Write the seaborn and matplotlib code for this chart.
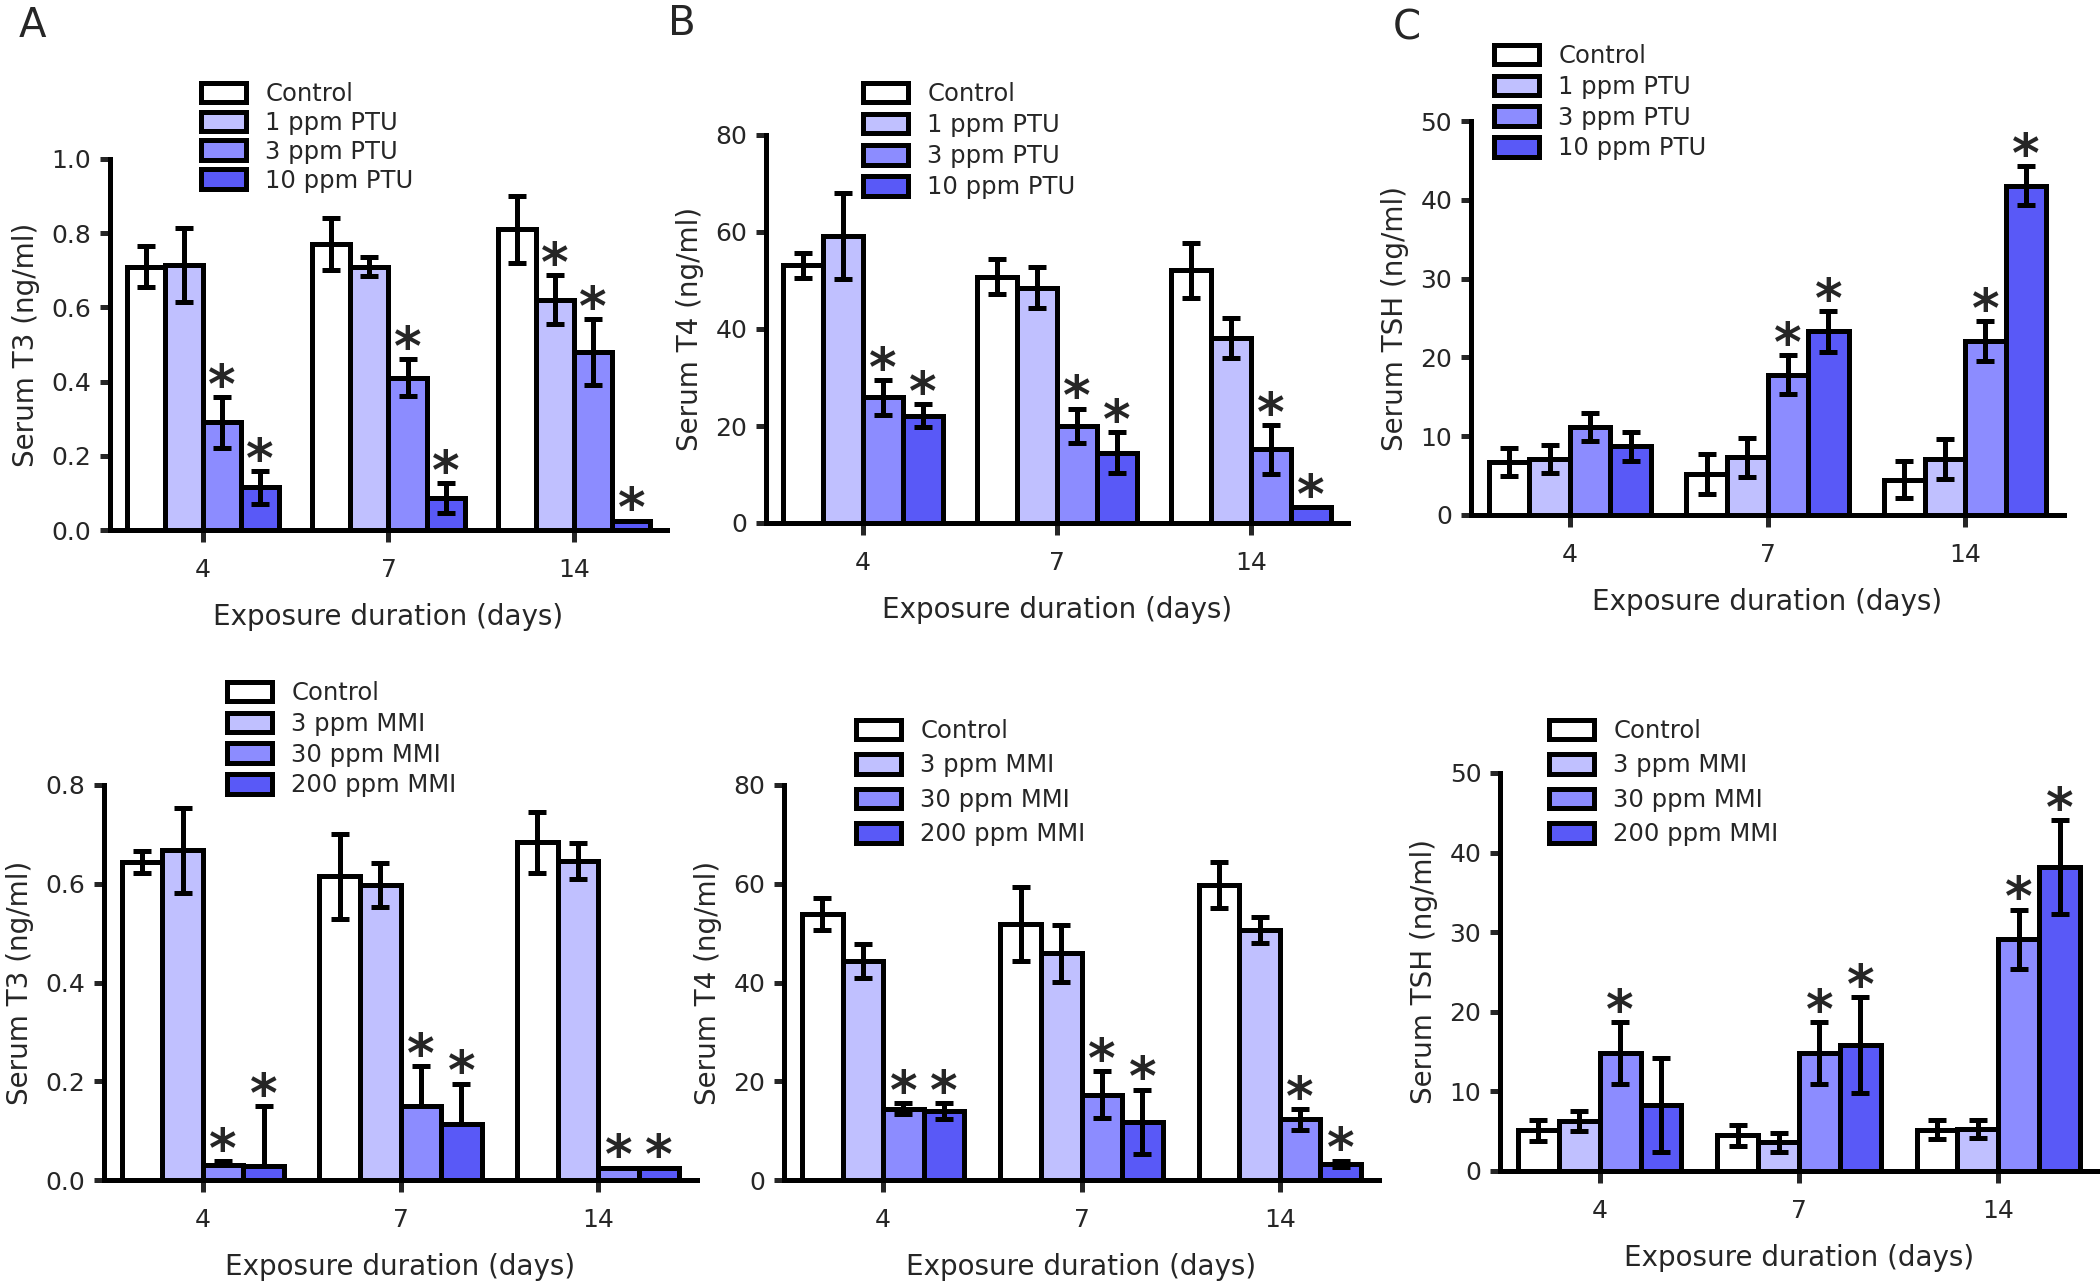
import numpy as np
import pandas as pd
import matplotlib
matplotlib.use("Agg")
import matplotlib.pyplot as plt
import seaborn as sns

days = ["4", "7", "14"]
ptu_groups = ["Control", "1 ppm PTU", "3 ppm PTU", "10 ppm PTU"]
mmi_groups = ["Control", "3 ppm MMI", "30 ppm MMI", "200 ppm MMI"]
colors = ["#FFFFFF", "#C0C0FF", "#8C8CFF", "#5959F7"]

# rows = groups, columns = days 4, 7, 14
t3_ptu = [[0.71, 0.77, 0.81], [0.715, 0.71, 0.62], [0.29, 0.41, 0.48], [0.115, 0.086, 0.025]]
t3_ptu_err = [[0.056, 0.07, 0.09], [0.10, 0.026, 0.066], [0.068, 0.05, 0.089], [0.044, 0.04, 0.0]]
t3_ptu_star = [[0, 0, 0], [0, 0, 1], [1, 1, 1], [1, 1, 1]]

t4_ptu = [[53.1, 50.8, 52.1], [59.2, 48.5, 38.2], [25.9, 20.0, 15.2], [22.1, 14.5, 3.2]]
t4_ptu_err = [[2.6, 3.6, 5.7], [8.9, 4.2, 4.1], [3.6, 3.6, 5.0], [2.4, 4.2, 0.0]]
t4_ptu_star = [[0, 0, 0], [0, 0, 0], [1, 1, 1], [1, 1, 1]]

tsh_ptu = [[6.7, 5.2, 4.5], [7.1, 7.3, 7.1], [11.2, 17.8, 22.1], [8.7, 23.3, 41.8]]
tsh_ptu_err = [[1.8, 2.5, 2.4], [1.8, 2.5, 2.5], [1.8, 2.5, 2.5], [1.8, 2.6, 2.5]]
tsh_ptu_star = [[0, 0, 0], [0, 0, 0], [0, 1, 1], [0, 1, 1]]

t3_mmi = [[0.644, 0.615, 0.684], [0.668, 0.598, 0.646], [0.030, 0.150, 0.025], [0.029, 0.113, 0.025]]
t3_mmi_err = [[0.023, 0.086, 0.062], [0.086, 0.045, 0.036], [0.008, 0.080, 0.0], [0.12, 0.082, 0.0]]
t3_mmi_err_lo = [[0.023, 0.086, 0.062], [0.086, 0.045, 0.036], [0.0, 0.0, 0.0], [0.0, 0.0, 0.0]]
t3_mmi_star = [[0, 0, 0], [0, 0, 0], [1, 1, 1], [1, 1, 1]]

t4_mmi = [[53.9, 51.8, 59.8], [44.4, 45.9, 50.6], [14.4, 17.3, 12.3], [14.0, 11.8, 3.3]]
t4_mmi_err = [[3.3, 7.5, 4.7], [3.4, 5.8, 2.6], [1.1, 4.8, 2.1], [1.6, 6.5, 0.6]]
t4_mmi_star = [[0, 0, 0], [0, 0, 0], [1, 1, 1], [1, 1, 1]]

tsh_mmi = [[5.1, 4.5, 5.2], [6.3, 3.6, 5.3], [14.8, 14.8, 29.1], [8.3, 15.8, 38.2]]
tsh_mmi_err = [[1.35, 1.3, 1.2], [1.3, 1.2, 1.1], [3.9, 3.9, 3.75], [5.9, 6.0, 5.9]]
tsh_mmi_star = [[0, 0, 0], [0, 0, 0], [1, 1, 1], [0, 1, 1]]

W, H = 2100, 1287
fig = plt.figure(figsize=(W / 100, H / 100), dpi=100)
sns.set_style("white")
plt.rcParams["font.family"] = ["DejaVu Sans"]

LW = 3.6


def px_axes(left, right, top, bottom):
    return fig.add_axes([left / W, 1 - bottom / H, (right - left) / W, (bottom - top) / H])


def panel(box, groups, means, errs, stars, ylabel, ymax, ystep, fmt, leg_xy, leg_sp, err_lo=None):
    ax = px_axes(*box)
    df = pd.DataFrame([(d, g, means[i][j]) for i, g in enumerate(groups) for j, d in enumerate(days)],
                      columns=["day", "group", "value"])
    sns.barplot(data=df, x="day", y="value", hue="group", order=days, hue_order=groups,
                palette=colors, edgecolor="black", linewidth=LW, errorbar=None,
                saturation=1, width=0.82, ax=ax)
    bars = list(ax.containers)
    for i, cont in enumerate(bars):
        xs = [p.get_x() + p.get_width() / 2 for p in cont.patches]
        hs = [p.get_height() for p in cont.patches]
        up = np.array(errs[i])
        lo = np.array(err_lo[i]) if err_lo is not None else up
        ax.errorbar(xs, hs, yerr=[lo, up], fmt="none", ecolor="black",
                    elinewidth=LW, capsize=6.5, capthick=LW, zorder=5)
        for j, x in enumerate(xs):
            if stars[i][j]:
                ax.annotate("*", (x, hs[j] + up[j]), xytext=(0, -12), textcoords="offset points",
                            ha="center", va="bottom", fontsize=38, fontweight="bold", zorder=6,
                            annotation_clip=False)
    ax.set_xlim(-0.5, 2.5)
    ax.set_ylim(0, ymax)
    ticks = np.arange(0, ymax + ystep / 2, ystep)
    ax.set_yticks(ticks)
    ax.set_yticklabels([fmt.format(t) for t in ticks])
    sns.despine(ax=ax)
    for s in ["left", "bottom"]:
        ax.spines[s].set_linewidth(LW)
        ax.spines[s].set_color("black")
    ax.tick_params(axis="x", length=8.5, width=LW, pad=12, labelsize=18, direction="out", bottom=True)
    ax.tick_params(axis="y", length=7.5, width=LW, pad=6, labelsize=18, direction="out", left=True)
    ax.set_xlabel("Exposure duration (days)", fontsize=20, labelpad=15)
    ax.set_ylabel(ylabel, fontsize=20, labelpad=8)
    if ax.legend_ is not None:
        ax.legend_.remove()
    fig.legend([c.patches[0] for c in bars], groups, loc="upper left",
               bbox_to_anchor=(leg_xy[0] / W, 1 - leg_xy[1] / H), frameon=False,
               fontsize=17.5, borderpad=0, handlelength=1.85, handleheight=0.87,
               handletextpad=0.8, labelspacing=leg_sp, borderaxespad=0)
    return ax


panel((110, 667, 159, 530), ptu_groups, t3_ptu, t3_ptu_err, t3_ptu_star,
      "Serum T3 (ng/ml)", 1.0, 0.2, "{:.1f}", (201, 82), 0.2)
panel((766, 1348, 135, 523), ptu_groups, t4_ptu, t4_ptu_err, t4_ptu_star,
      "Serum T4 (ng/ml)", 80, 20, "{:.0f}", (863, 82), 0.29)
panel((1471, 2064, 121, 515), ptu_groups, tsh_ptu, tsh_ptu_err, tsh_ptu_star,
      "Serum TSH (ng/ml)", 50, 10, "{:.0f}", (1494, 44), 0.28)
panel((104, 697, 785, 1180), mmi_groups, t3_mmi, t3_mmi_err, t3_mmi_star,
      "Serum T3 (ng/ml)", 0.8, 0.2, "{:.1f}", (227, 681), 0.28, err_lo=t3_mmi_err_lo)
panel((784, 1379, 785, 1180), mmi_groups, t4_mmi, t4_mmi_err, t4_mmi_star,
      "Serum T4 (ng/ml)", 80, 20, "{:.0f}", (856, 719), 0.43)
panel((1500, 2098, 773, 1171), mmi_groups, tsh_mmi, tsh_mmi_err, tsh_mmi_star,
      "Serum TSH (ng/ml)", 50, 10, "{:.0f}", (1549, 719), 0.43)

for lab, x, y in [("A", 19, 37), ("B", 668, 35), ("C", 1393, 39)]:
    fig.text(x / W, 1 - y / H, lab, fontsize=29, va="baseline", ha="left")

fig.savefig("out.png", dpi=100)
